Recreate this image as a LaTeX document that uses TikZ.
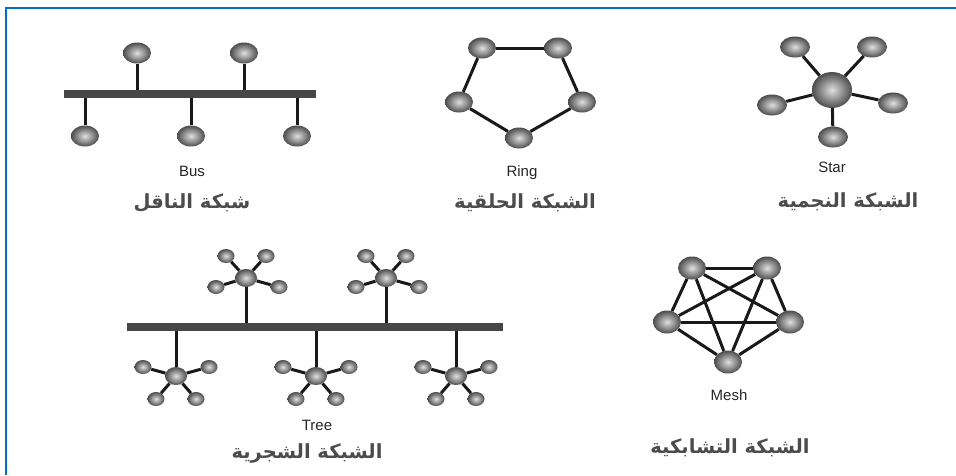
\documentclass[tikz,border=0pt]{standalone}
\usepackage{fontspec}
\setmainfont{Liberation Sans}
\newfontfamily\arabicfont[Script=Arabic]{DejaVu Sans}
\TeXXeTstate=1
\usetikzlibrary{shapes.geometric}
\definecolor{frameblue}{HTML}{0070C0}
\definecolor{bargray}{HTML}{474747}
\tikzset{
  ball/.style={ellipse, inner sep=0pt, shading=radial, inner color=gray!25, outer color=black!70, draw=none},
  bignode/.style={ball, minimum width=28pt, minimum height=21pt},
  hubnode/.style={ball, minimum width=40pt, minimum height=36pt},
  leafnode/.style={ball, minimum width=30pt, minimum height=21pt},
  tcenter/.style={ball, minimum width=22pt, minimum height=18pt},
  tleaf/.style={ball, minimum width=17pt, minimum height=14pt},
  meshnode/.style={ball, minimum width=28pt, minimum height=23pt},
  link/.style={line width=3pt, black!90},
  barbox/.style={fill=bargray, draw=none, inner sep=0pt, minimum height=8pt},
  enlabel/.style={font=\fontsize{15}{17}\selectfont, text=black!85},
  arlabel/.style={font=\arabicfont\bfseries\fontsize{19.5}{22}\selectfont, text=black!70}
}
\begin{document}
\begin{tikzpicture}[x=1pt,y=-1pt]
\useasboundingbox (0,0) rectangle (956,475);
\fill[white] (0,0) rectangle (956,475);
% frame
\coordinate (fa) at (6,475);
\coordinate (fb) at (6,8);
\coordinate (fc) at (956,8);
\draw[frameblue, line width=2pt] (fa) -- (fb) -- (fc);

% ---------- Bus ----------
\node[barbox, minimum width=252pt] (busbar) at (190,94) {};
\node[bignode] (bt1) at (137,53) {};
\node[bignode] (bt2) at (244,53) {};
\node[bignode] (bb1) at (85,136) {};
\node[bignode] (bb2) at (191,136) {};
\node[bignode] (bb3) at (297,136) {};
\foreach \n in {bt1,bt2} \draw[link] (\n) -- (\n |- busbar.north);
\foreach \n in {bb1,bb2,bb3} \draw[link] (\n) -- (\n |- busbar.south);
\node[enlabel] (buslbl) at (192,171) {Bus};
\node[arlabel] (busar) at (192,203) {\beginR شبكة الناقل\endR};

% ---------- Ring ----------
\node[bignode] (r1) at (482,48) {};
\node[bignode] (r2) at (558,48) {};
\node[bignode] (r3) at (582,102) {};
\node[bignode] (r4) at (519,138) {};
\node[bignode] (r5) at (459,102) {};
\draw[link] (r1) -- (r2);
\draw[link] (r2) -- (r3);
\draw[link] (r3) -- (r4);
\draw[link] (r4) -- (r5);
\draw[link] (r5) -- (r1);
\node[enlabel] (ringlbl) at (522,173) {Ring};
\node[arlabel] (ringar) at (525,203) {\beginR الشبكة الحلقية\endR};

% ---------- Star ----------
\node[hubnode] (sh) at (832,90) {};
\node[leafnode] (s1) at (795,47) {};
\node[leafnode] (s2) at (872,47) {};
\node[leafnode] (s3) at (772,105) {};
\node[leafnode] (s4) at (893,103) {};
\node[leafnode] (s5) at (833,137) {};
\foreach \n in {s1,s2,s3,s4,s5} \draw[link] (sh) -- (\n);
\node[enlabel] (starlbl) at (832,167) {Star};
\node[arlabel] (starar) at (848,202) {\beginR الشبكة النجمية\endR};

% ---------- Tree ----------
\node[barbox, minimum width=376pt] (treebar) at (315,327) {};
\foreach \i/\cx in {1/246,2/386} {
  \node[tcenter] (tu\i) at (\cx,278) {};
  \node[tleaf] (tu\i a) at (\cx-20,256) {};
  \node[tleaf] (tu\i b) at (\cx+20,256) {};
  \node[tleaf] (tu\i c) at (\cx-30,287) {};
  \node[tleaf] (tu\i d) at (\cx+33,287) {};
  \foreach \l in {a,b,c,d} \draw[link] (tu\i) -- (tu\i\l);
  \draw[link] (tu\i) -- (tu\i |- treebar.north);
}
\foreach \i/\cx in {1/176,2/316,3/456} {
  \node[tcenter] (tl\i) at (\cx,376) {};
  \node[tleaf] (tl\i a) at (\cx-33,367) {};
  \node[tleaf] (tl\i b) at (\cx+33,367) {};
  \node[tleaf] (tl\i c) at (\cx-20,399) {};
  \node[tleaf] (tl\i d) at (\cx+20,399) {};
  \foreach \l in {a,b,c,d} \draw[link] (tl\i) -- (tl\i\l);
  \draw[link] (tl\i) -- (tl\i |- treebar.south);
}
\node[enlabel] (treelbl) at (317,425) {Tree};
\node[arlabel] (treear) at (307,453) {\beginR الشبكة الشجرية\endR};

% ---------- Mesh ----------
\node[meshnode] (m1) at (692,268) {};
\node[meshnode] (m2) at (767,268) {};
\node[meshnode] (m3) at (790,322) {};
\node[meshnode] (m4) at (728,362) {};
\node[meshnode] (m5) at (667,322) {};
\foreach \a/\b in {m1/m2,m1/m3,m1/m4,m1/m5,m2/m3,m2/m4,m2/m5,m3/m4,m3/m5,m4/m5}
  \draw[link] (\a) -- (\b);
\node[enlabel] (meshlbl) at (729,395) {Mesh};
\node[arlabel] (meshar) at (730,448) {\beginR الشبكة التشابكية\endR};
\end{tikzpicture}
\end{document}
